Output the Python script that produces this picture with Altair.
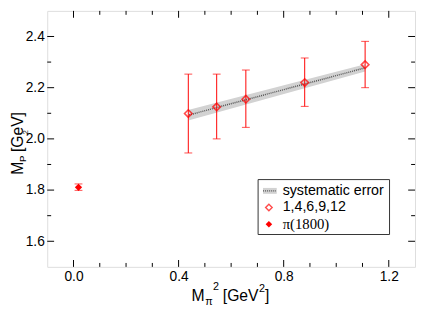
import altair as alt
import pandas as pd

# ---- data ----
msq = [0.437, 0.545, 0.656, 0.880, 1.110]
mp = [2.099, 2.125, 2.155, 2.220, 2.290]
mp_lo = [1.945, 2.000, 2.045, 2.127, 2.200]
mp_hi = [2.253, 2.253, 2.269, 2.316, 2.381]

pi_x = [0.019]
pi_y = [1.811]
pi_lo = [1.799]
pi_hi = [1.824]

band_x = [0.44, 1.11]
band_lo = [2.073, 2.263]
band_hi = [2.114, 2.292]

x_major = [0.0, 0.4, 0.8, 1.2]
x_minor = [0.1, 0.2, 0.3, 0.5, 0.6, 0.7, 0.9, 1.0, 1.1]
y_major = [1.6, 1.8, 2.0, 2.2, 2.4]
y_minor = [1.7, 1.9, 2.1, 2.3]

legend_labels = ["systematic error", "1,4,6,9,12", "\u03c0(1800)"]

W, H = 375, 261
RED = "#ff0000"
FONT = "Liberation Sans"

xs = alt.Scale(domain=[-0.1, 1.3], nice=False, zero=False)
ys = alt.Scale(domain=[1.5, 2.5], nice=False, zero=False)

pts = pd.DataFrame({"x": msq, "y": mp, "lo": mp_lo, "hi": mp_hi})
pip = pd.DataFrame({"x": pi_x, "y": pi_y, "lo": pi_lo, "hi": pi_hi})
band = pd.DataFrame({"x": band_x, "lo": band_lo, "hi": band_hi,
                     "mid": [(a + b) / 2 for a, b in zip(band_lo, band_hi)]})

xaxis = alt.Axis(values=x_major, format=".1f", ticks=False, domain=False, grid=False,
                 labelFont=FONT, labelFontSize=14, labelColor="black", labelPadding=3,
                 title=None)
yaxis = alt.Axis(values=y_major, format=".1f", ticks=False, domain=False, grid=False,
                 labelFont=FONT, labelFontSize=14, labelColor="black", labelPadding=3,
                 title=None)

base_axes = alt.Chart(pts).mark_point(opacity=0).encode(
    x=alt.X("x:Q", scale=xs, axis=xaxis),
    y=alt.Y("y:Q", scale=ys, axis=yaxis),
)

BAND_FILL = "#d2d2d2"
band_area = alt.Chart(band).mark_area(color=BAND_FILL, opacity=1).encode(
    x=alt.X("x:Q", scale=xs), y=alt.Y("lo:Q", scale=ys), y2="hi:Q")
band_mid = alt.Chart(band).mark_line(color="#555", strokeWidth=1.5, strokeDash=[1, 1]).encode(
    x=alt.X("x:Q", scale=xs), y=alt.Y("mid:Q", scale=ys))


def errbars(df):
    bars = alt.Chart(df).mark_rule(color=RED, strokeWidth=1).encode(
        x=alt.X("x:Q", scale=xs), y=alt.Y("lo:Q", scale=ys), y2="hi:Q")
    cap_lo = alt.Chart(df).mark_tick(color=RED, orient="horizontal", size=8, thickness=1).encode(
        x=alt.X("x:Q", scale=xs), y=alt.Y("lo:Q", scale=ys))
    cap_hi = alt.Chart(df).mark_tick(color=RED, orient="horizontal", size=8, thickness=1).encode(
        x=alt.X("x:Q", scale=xs), y=alt.Y("hi:Q", scale=ys))
    return [bars, cap_lo, cap_hi]


open_pts = alt.Chart(pts).mark_point(shape="diamond", filled=False, color=RED,
                                     strokeWidth=1.6, size=60).encode(
    x=alt.X("x:Q", scale=xs), y=alt.Y("y:Q", scale=ys))
pi_pts = alt.Chart(pip).mark_point(shape="diamond", filled=True, color=RED,
                                   size=55, opacity=1).encode(
    x=alt.X("x:Q", scale=xs), y=alt.Y("y:Q", scale=ys))


# ---- inward ticks on all four sides ----
def xticks(vals, length):
    d = pd.DataFrame({"v": vals})
    bot = alt.Chart(d).mark_rule(color="black", strokeWidth=1).encode(
        x=alt.X("v:Q", scale=xs), y=alt.value(H), y2=alt.value(H - length))
    top = alt.Chart(d).mark_rule(color="black", strokeWidth=1).encode(
        x=alt.X("v:Q", scale=xs), y=alt.value(0), y2=alt.value(length))
    return [bot, top]


def yticks(vals, length):
    d = pd.DataFrame({"v": vals})
    left = alt.Chart(d).mark_rule(color="black", strokeWidth=1).encode(
        y=alt.Y("v:Q", scale=ys), x=alt.value(0), x2=alt.value(length))
    right = alt.Chart(d).mark_rule(color="black", strokeWidth=1).encode(
        y=alt.Y("v:Q", scale=ys), x=alt.value(W), x2=alt.value(W - length))
    return [left, right]


def txt(t, x, y, size, angle=0, font=FONT, align="left", baseline="alphabetic"):
    return alt.Chart(pd.DataFrame({"t": [t]})).mark_text(
        font=font, fontSize=size, angle=angle, align=align, baseline=baseline,
        color="black").encode(text="t:N", x=alt.value(x), y=alt.value(y))


# axis titles (with sub/superscripts)
titles = [
    txt("M", 147, 296, 16),
    txt("\u03c0", 161, 300, 11),
    txt("2", 169, 285, 11),
    txt("[GeV", 179, 296, 16),
    txt("2", 216, 287, 11),
    txt("]", 222, 296, 16),
    txt("M", -25, 167, 16, angle=270),
    txt("P", -22, 154, 10, angle=270),
    txt("[GeV]", -25, 144, 16, angle=270),
    txt("2", -20, 126, 8, angle=270),
]

# ---- legend ----
LX0, LX1, LY0, LY1 = 215, 349, 172, 228
rows = [183.5, 200.5, 217.5]
leg_box = alt.Chart(pd.DataFrame({"a": [0]})).mark_rect(
    fill="white", stroke="#333", strokeWidth=1).encode(
    x=alt.value(LX0), x2=alt.value(LX1), y=alt.value(LY0), y2=alt.value(LY1))
leg_band = alt.Chart(pd.DataFrame({"a": [0]})).mark_rect(fill=BAND_FILL).encode(
    x=alt.value(220), x2=alt.value(234), y=alt.value(rows[0] - 3), y2=alt.value(rows[0] + 3))
leg_band_mid = alt.Chart(pd.DataFrame({"a": [0]})).mark_rule(
    color="#555", strokeWidth=1.5, strokeDash=[1, 1]).encode(
    x=alt.value(220), x2=alt.value(234), y=alt.value(rows[0]))
leg_open = alt.Chart(pd.DataFrame({"a": [0]})).mark_point(
    shape="diamond", filled=False, color=RED, strokeWidth=1.4, size=45).encode(
    x=alt.value(226), y=alt.value(rows[1]))
leg_fill = alt.Chart(pd.DataFrame({"a": [0]})).mark_point(
    shape="diamond", filled=True, color=RED, size=45, opacity=1).encode(
    x=alt.value(226), y=alt.value(rows[2]))
leg_texts = [
    txt(legend_labels[0], 240, rows[0], 14.5, baseline="middle"),
    txt(legend_labels[1], 240, rows[1], 14.5, baseline="middle"),
    txt(legend_labels[2], 240, rows[2], 15, font="Liberation Serif", baseline="middle"),
]

layers = ([base_axes, band_area, band_mid] + errbars(pts) + errbars(pip) +
          [open_pts, pi_pts] +
          xticks(x_major, 7) + xticks(x_minor, 4) + yticks(y_major, 7) + yticks(y_minor, 4) +
          titles + [leg_box, leg_band, leg_band_mid, leg_open, leg_fill] + leg_texts)

chart = alt.layer(*layers).properties(
    width=W, height=H,
    autosize=alt.AutoSizeParams(type="none"),
    padding={"left": 40, "top": 0, "right": 2, "bottom": 40},
).configure_view(stroke="#222", strokeWidth=1).configure(background="white")

chart.save("out.html", embed_options={"renderer": "svg", "actions": False})
